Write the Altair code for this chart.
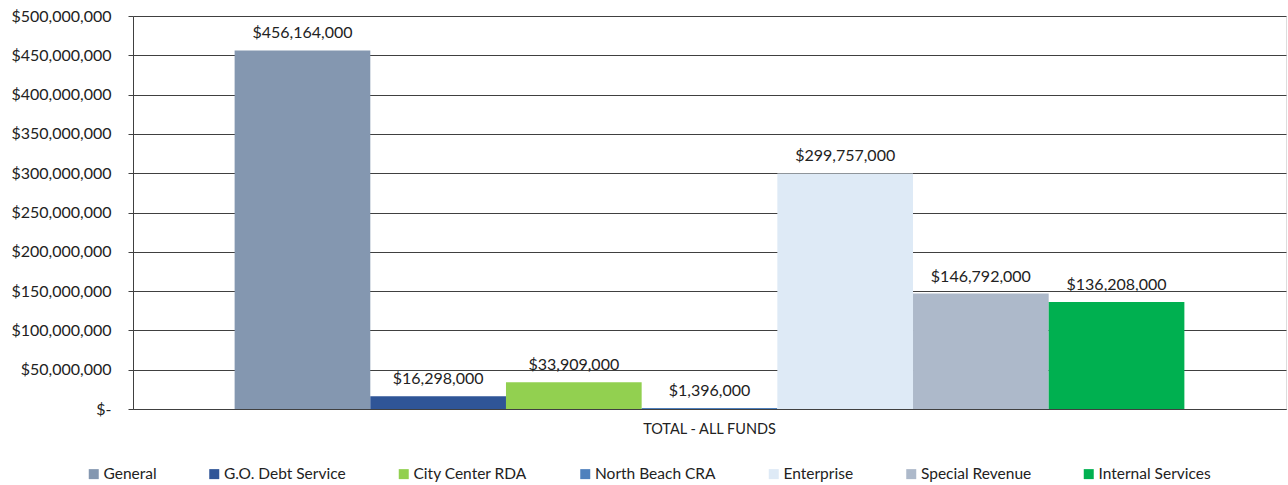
import altair as alt
import pandas as pd

funds = ["General", "G.O. Debt Service", "City Center RDA", "North Beach CRA",
         "Enterprise", "Special Revenue", "Internal Services"]
values = [456164000, 16298000, 33909000, 1396000, 299757000, 146792000, 136208000]
colors = ["#8497B0", "#2F5597", "#92D050", "#4F81BD", "#DEEAF6", "#ADB9CA", "#00B050"]
category = "TOTAL - ALL FUNDS"
y_ticks = [0, 50000000, 100000000, 150000000, 200000000, 250000000,
           300000000, 350000000, 400000000, 450000000, 500000000]

df = pd.DataFrame({
    "cat": [category] * len(funds),
    "fund": funds,
    "value": values,
    "label": ["$" + format(v, ",") for v in values],
})

FONT = "Lato"

x = alt.X("cat:N", title=None,
          scale=alt.Scale(paddingOuter=0.107, paddingInner=0),
          axis=alt.Axis(labelAngle=0, ticks=False, labelFontSize=14.5, labelColor="#222",
                        labelPadding=13, domainColor="#404040", labelFont=FONT))
xo = alt.XOffset("fund:N", sort=funds, scale=alt.Scale(paddingInner=0, paddingOuter=0))
y = alt.Y("value:Q", title=None,
          scale=alt.Scale(domain=[0, 500000000], nice=False),
          axis=alt.Axis(values=y_ticks, grid=True, gridColor="#404040",
                        domainColor="#404040", tickColor="#404040", tickSize=5,
                        labelFontSize=16, labelColor="#222", labelPadding=17,
                        labelFont=FONT, labelOverlap=False,
                        labelExpr="datum.value == 0 ? '$-' : '$' + format(datum.value, ',')"))

bars = alt.Chart(df).mark_bar().encode(
    x=x,
    xOffset=xo,
    y=y,
    color=alt.Color("fund:N", sort=funds,
                    scale=alt.Scale(domain=funds, range=colors),
                    legend=alt.Legend(title=None, orient="none", direction="horizontal",
                                      legendX=-47, legendY=450, symbolType="square",
                                      symbolSize=100, symbolStrokeWidth=0,
                                      labelFontSize=15.5, labelColor="#222", labelFont=FONT,
                                      columnPadding=49.5, labelOffset=2, padding=0)),
)

text = alt.Chart(df).mark_text(dy=-17, fontSize=16, color="#222", font=FONT).encode(
    x=x,
    xOffset=xo,
    y=y,
    text="label:N",
)

chart = alt.layer(bars, text).properties(
    width=1153, height=393,
    autosize=alt.AutoSizeParams(type="none"),
    padding={"left": 133, "top": 16, "right": 2, "bottom": 76},
).configure_view(stroke=None).configure(background="white")

chart.save("out.html", embed_options={"renderer": "svg", "actions": False})
